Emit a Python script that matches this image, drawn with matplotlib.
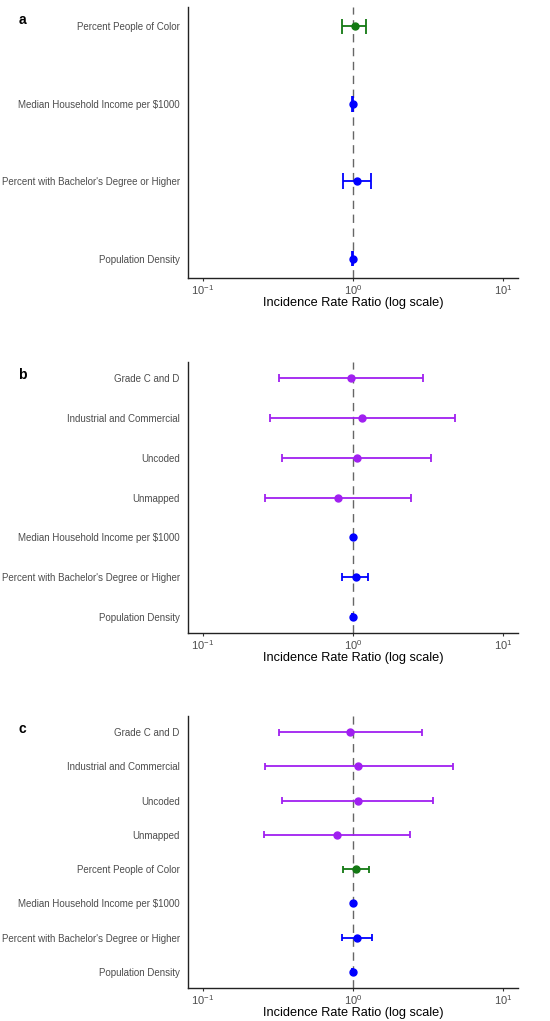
import numpy as np
import matplotlib
matplotlib.use("Agg")
import matplotlib.pyplot as plt

plt.rcParams['font.family'] = ['Liberation Sans', 'DejaVu Sans']

# Panel a: sociodemographic model
labels_a = ["Percent People of Color", "Median Household Income per $1000",
            "Percent with Bachelor's Degree or Higher", "Population Density"]
est_a = [1.03, 0.995, 1.06, 0.995]
lo_a = [0.85, 0.985, 0.86, 0.985]
hi_a = [1.23, 1.005, 1.32, 1.005]
grp_a = ["poc", "ses", "ses", "ses"]

# Panel b: HOLC grade model
labels_b = ["Grade C and D", "Industrial and Commercial", "Uncoded", "Unmapped",
            "Median Household Income per $1000",
            "Percent with Bachelor's Degree or Higher", "Population Density"]
est_b = [0.965, 1.14, 1.06, 0.79, 0.995, 1.04, 0.995]
lo_b = [0.32, 0.278, 0.334, 0.258, 0.985, 0.85, 0.985]
hi_b = [2.91, 4.79, 3.33, 2.44, 1.005, 1.26, 1.005]
grp_b = ["holc", "holc", "holc", "holc", "ses", "ses", "ses"]

# Panel c: combined model
labels_c = ["Grade C and D", "Industrial and Commercial", "Uncoded", "Unmapped",
            "Percent People of Color", "Median Household Income per $1000",
            "Percent with Bachelor's Degree or Higher", "Population Density"]
est_c = [0.96, 1.08, 1.08, 0.786, 1.05, 0.995, 1.06, 0.995]
lo_c = [0.32, 0.26, 0.338, 0.254, 0.86, 0.985, 0.84, 0.985]
hi_c = [2.90, 4.62, 3.40, 2.41, 1.27, 1.005, 1.33, 1.005]
grp_c = ["holc", "holc", "holc", "holc", "poc", "ses", "ses", "ses"]

colors = {"holc": "#A020F0", "poc": "#137813", "ses": "#0000FF"}

fig = plt.figure(figsize=(5.5, 10.21), dpi=100)

panels = [
    ("a", labels_a, est_a, lo_a, hi_a, grp_a, [0.3418, 0.7277, 0.6, 0.2654], 0.25),
    ("b", labels_b, est_b, lo_b, hi_b, grp_b, [0.3418, 0.3800, 0.6, 0.2654], 0.39),
    ("c", labels_c, est_c, lo_c, hi_c, grp_c, [0.3418, 0.0323, 0.6, 0.2664], 0.47),
]

for tag, labels, est, lo, hi, grp, rect, pad in panels:
    ax = fig.add_axes(rect)
    n = len(labels)
    y = np.arange(n, 0, -1)
    ax.axvline(1, color="#666666", lw=1.0, ls=(0, (6, 4)), zorder=1)
    for yi, e, l, h, g in zip(y, est, lo, hi, grp):
        c = colors[g]
        ax.hlines(yi, l, h, color=c, lw=1.3, zorder=2)
        ax.vlines([l, h], yi - 0.1, yi + 0.1, color=c, lw=1.3, zorder=2)
        ax.plot(e, yi, 'o', color=c, ms=5, zorder=3)
    ax.set_xscale("log")
    ax.set_xlim(10 ** -1.1, 10 ** 1.1)
    ax.set_xticks([0.1, 1, 10])
    ax.minorticks_off()
    ax.set_ylim(1 - pad, n + pad)
    ax.set_yticks(y)
    ax.set_yticklabels(labels)
    ax.tick_params(axis="y", length=0, pad=6, labelsize=7.0, labelcolor="#4d4d4d")
    ax.tick_params(axis="x", length=2, width=0.8, color="#333333", pad=2,
                   labelsize=8, labelcolor="#4d4d4d")
    for s in ["top", "right"]:
        ax.spines[s].set_visible(False)
    for s in ["left", "bottom"]:
        ax.spines[s].set_color("#222222")
        ax.spines[s].set_linewidth(1.0)
    ax.set_xlabel("Incidence Rate Ratio (log scale)", fontsize=9.2, labelpad=0)
    top_px = (1 - rect[1] - rect[3]) * 1021
    fig.text(0.04, 1 - (top_px + 13) / 1021, tag, fontsize=10, fontweight="bold",
             ha="center", va="center")

fig.savefig("out.png", dpi=100)
